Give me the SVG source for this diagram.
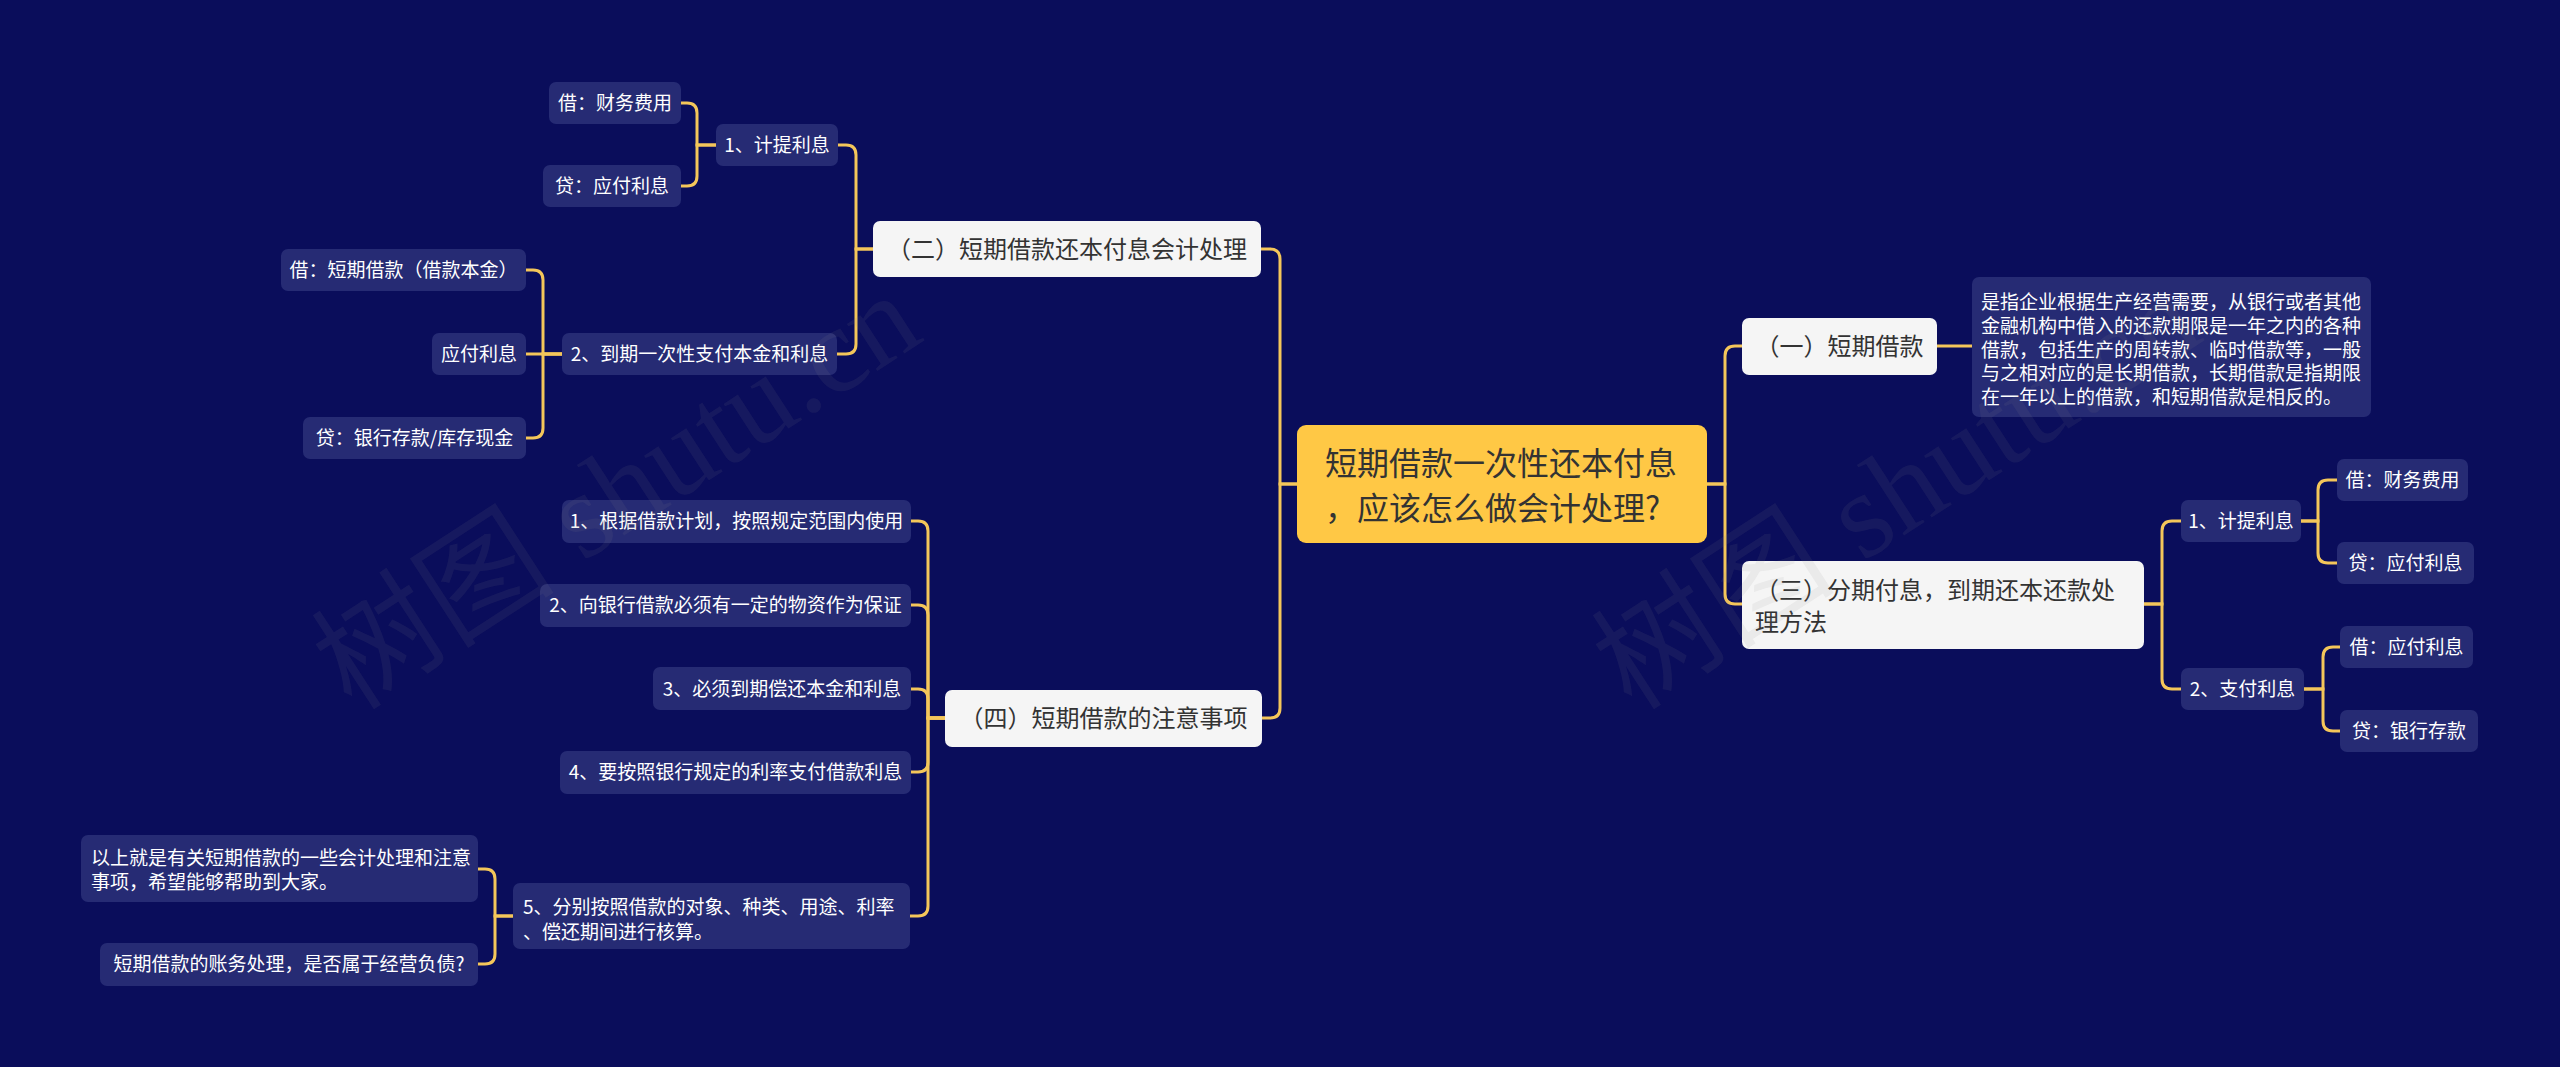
<svg xmlns="http://www.w3.org/2000/svg" width="2560" height="1067" viewBox="0 0 2560 1067">
<style>
text{font-family:"Noto Sans CJK SC","Liberation Sans",sans-serif}
.bg{fill:#0A0D5B}
.sm rect{fill:#262B74}
.sm text{fill:#FFFFFF;font-size:19px}
.mid rect{fill:#F5F5F5}
.mid text{fill:#333333;font-size:24px}
.root rect{fill:#FFC845}
.root text{fill:#333333;font-size:32px}
.c{fill:none;stroke:#F4C65A;stroke-width:3;stroke-linecap:round}
.wm{fill:#8A8A8A;fill-opacity:0.1;font-size:122px;font-family:"Liberation Serif","Noto Sans CJK SC",serif}
</style>
<rect class="bg" x="0" y="0" width="2560" height="1067"/>
<g id="connectors">
<path class="c" d="M1297,484 H1280 V259 Q1280,249 1270,249 H1261"/>
<path class="c" d="M1297,484 H1280 V708 Q1280,718 1270,718 H1262"/>
<path class="c" d="M1707,484 H1725 V356 Q1725,346 1735,346 H1742"/>
<path class="c" d="M1707,484 H1725 V594 Q1725,604 1735,604 H1742"/>
<path class="c" d="M873,249 H856 V155 Q856,145 846,145 H838"/>
<path class="c" d="M873,249 H856 V344 Q856,354 846,354 H837"/>
<path class="c" d="M716,145 H697 V113 Q697,103 687,103 H681"/>
<path class="c" d="M716,145 H697 V176 Q697,186 687,186 H681"/>
<path class="c" d="M562,354 H543 V280 Q543,270 533,270 H526"/>
<path class="c" d="M562,354 H526"/>
<path class="c" d="M562,354 H543 V428 Q543,438 533,438 H526"/>
<path class="c" d="M945,718 H928 V531 Q928,521 918,521 H911"/>
<path class="c" d="M945,718 H928 V615 Q928,605 918,605 H911"/>
<path class="c" d="M945,718 H928 V699 Q928,689 918,689 H911"/>
<path class="c" d="M945,718 H928 V762 Q928,772 918,772 H911"/>
<path class="c" d="M945,718 H928 V906 Q928,916 918,916 H910"/>
<path class="c" d="M513,916 H495 V879 Q495,869 485,869 H478"/>
<path class="c" d="M513,916 H495 V954 Q495,964 485,964 H478"/>
<path class="c" d="M1937,346 H1972"/>
<path class="c" d="M2144,604 H2162 V531 Q2162,521 2172,521 H2181"/>
<path class="c" d="M2144,604 H2162 V679 Q2162,689 2172,689 H2181"/>
<path class="c" d="M2301,521 H2318 V490 Q2318,480 2328,480 H2337"/>
<path class="c" d="M2301,521 H2318 V553 Q2318,563 2328,563 H2337"/>
<path class="c" d="M2304,689 H2323 V657 Q2323,647 2333,647 H2340"/>
<path class="c" d="M2304,689 H2323 V721 Q2323,731 2333,731 H2340"/>
</g>
<g id="root" class="root">
<rect x="1297" y="425" width="410" height="118" rx="9"/>
<text x="1325" y="475">短期借款一次性还本付息</text>
<text x="1325" y="520">，应该怎么做会计处理?</text>
</g>
<g id="n2" class="mid">
<rect x="873" y="221" width="388" height="56" rx="7"/>
<text x="1067" y="258" text-anchor="middle">（二）短期借款还本付息会计处理</text>
</g>
<g id="n2-1" class="sm">
<rect x="716" y="124" width="122" height="42" rx="7"/>
<text x="777" y="152" text-anchor="middle">1、计提利息</text>
</g>
<g id="n2-1-1" class="sm">
<rect x="549" y="82" width="132" height="42" rx="7"/>
<text x="615" y="110" text-anchor="middle">借：财务费用</text>
</g>
<g id="n2-1-2" class="sm">
<rect x="543" y="165" width="138" height="42" rx="7"/>
<text x="612" y="193" text-anchor="middle">贷：应付利息</text>
</g>
<g id="n2-2" class="sm">
<rect x="562" y="333" width="275" height="42" rx="7"/>
<text x="699.5" y="361" text-anchor="middle">2、到期一次性支付本金和利息</text>
</g>
<g id="n2-2-1" class="sm">
<rect x="281" y="249" width="245" height="42" rx="7"/>
<text x="403.5" y="277" text-anchor="middle">借：短期借款（借款本金）</text>
</g>
<g id="n2-2-2" class="sm">
<rect x="432" y="333" width="94" height="42" rx="7"/>
<text x="479" y="361" text-anchor="middle">应付利息</text>
</g>
<g id="n2-2-3" class="sm">
<rect x="303" y="417" width="223" height="42" rx="7"/>
<text x="414.5" y="445" text-anchor="middle">贷：银行存款/库存现金</text>
</g>
<g id="n4" class="mid">
<rect x="945" y="690" width="317" height="57" rx="7"/>
<text x="1103.5" y="727" text-anchor="middle">（四）短期借款的注意事项</text>
</g>
<g id="n4-1" class="sm">
<rect x="562" y="500" width="349" height="43" rx="7"/>
<text x="736.5" y="528" text-anchor="middle">1、根据借款计划，按照规定范围内使用</text>
</g>
<g id="n4-2" class="sm">
<rect x="540" y="584" width="371" height="43" rx="7"/>
<text x="725.5" y="612" text-anchor="middle">2、向银行借款必须有一定的物资作为保证</text>
</g>
<g id="n4-3" class="sm">
<rect x="653" y="667" width="258" height="43" rx="7"/>
<text x="782" y="696" text-anchor="middle">3、必须到期偿还本金和利息</text>
</g>
<g id="n4-4" class="sm">
<rect x="560" y="751" width="351" height="43" rx="7"/>
<text x="735.5" y="779" text-anchor="middle">4、要按照银行规定的利率支付借款利息</text>
</g>
<g id="n4-5" class="sm">
<rect x="513" y="883" width="397" height="66" rx="7"/>
<text x="523" y="914">5、分别按照借款的对象、种类、用途、利率</text>
<text x="523" y="939">、偿还期间进行核算。</text>
</g>
<g id="n4-5-1" class="sm">
<rect x="81" y="835" width="397" height="67" rx="7"/>
<text x="91" y="865">以上就是有关短期借款的一些会计处理和注意</text>
<text x="91" y="889">事项，希望能够帮助到大家。</text>
</g>
<g id="n4-5-2" class="sm">
<rect x="100" y="943" width="378" height="43" rx="7"/>
<text x="289" y="971" text-anchor="middle">短期借款的账务处理，是否属于经营负债?</text>
</g>
<g id="n1" class="mid">
<rect x="1742" y="318" width="195" height="57" rx="7"/>
<text x="1839.5" y="355" text-anchor="middle">（一）短期借款</text>
</g>
<g id="n1-1" class="sm">
<rect x="1972" y="277" width="399" height="140" rx="7"/>
<text x="1981" y="309">是指企业根据生产经营需要，从银行或者其他</text>
<text x="1981" y="333">金融机构中借入的还款期限是一年之内的各种</text>
<text x="1981" y="357">借款，包括生产的周转款、临时借款等，一般</text>
<text x="1981" y="380">与之相对应的是长期借款，长期借款是指期限</text>
<text x="1981" y="404">在一年以上的借款，和短期借款是相反的。</text>
</g>
<g id="n3" class="mid">
<rect x="1742" y="561" width="402" height="88" rx="7"/>
<text x="1755" y="599">（三）分期付息，到期还本还款处</text>
<text x="1755" y="631">理方法</text>
</g>
<g id="n3-1" class="sm">
<rect x="2181" y="500" width="120" height="42" rx="7"/>
<text x="2241" y="528" text-anchor="middle">1、计提利息</text>
</g>
<g id="n3-1-1" class="sm">
<rect x="2337" y="459" width="131" height="42" rx="7"/>
<text x="2402.5" y="487" text-anchor="middle">借：财务费用</text>
</g>
<g id="n3-1-2" class="sm">
<rect x="2337" y="542" width="137" height="42" rx="7"/>
<text x="2405.5" y="570" text-anchor="middle">贷：应付利息</text>
</g>
<g id="n3-2" class="sm">
<rect x="2181" y="668" width="123" height="42" rx="7"/>
<text x="2242.5" y="696" text-anchor="middle">2、支付利息</text>
</g>
<g id="n3-2-1" class="sm">
<rect x="2340" y="626" width="133" height="42" rx="7"/>
<text x="2406.5" y="654" text-anchor="middle">借：应付利息</text>
</g>
<g id="n3-2-2" class="sm">
<rect x="2340" y="710" width="138" height="42" rx="7"/>
<text x="2409" y="738" text-anchor="middle">贷：银行存款</text>
</g>
<g id="watermark">
<text class="wm" transform="translate(352,712) rotate(-33)">树图 shutu.cn</text>
<text class="wm" transform="translate(1632,712) rotate(-33)">树图 shutu.cn</text>
</g>
</svg>
